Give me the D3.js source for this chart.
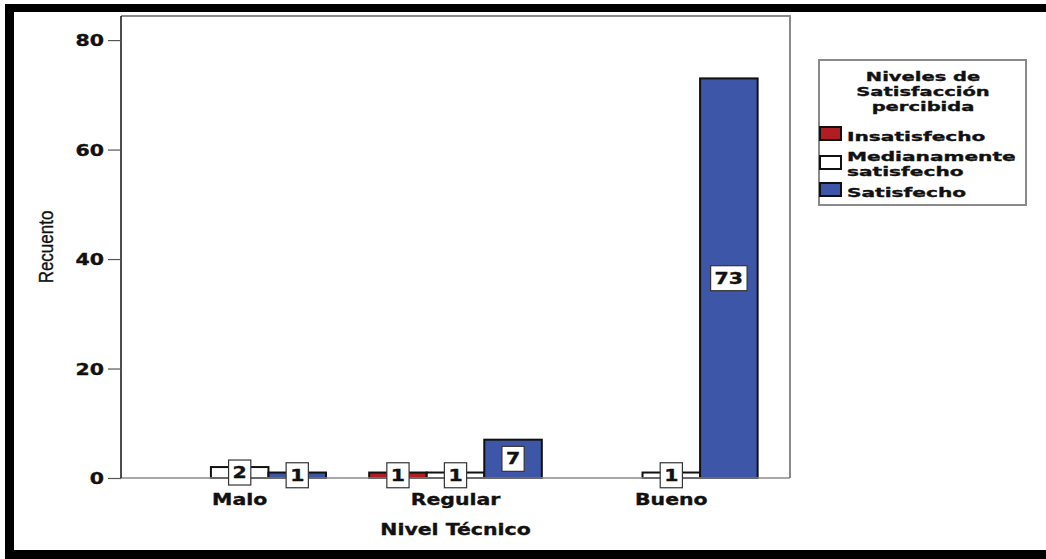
<!DOCTYPE html>
<html>
<head>
<meta charset="utf-8">
<script src="https://cdn.jsdelivr.net/npm/d3@7"></script>
<style>
  html, body { margin: 0; padding: 0; background: #fff; }
  svg { display: block; }
</style>
</head>
<body>
<svg id="chart" width="1046" height="559"></svg>
<script>
// Counts by technical level and perceived satisfaction
const categories = ["Malo", "Regular", "Bueno"];
const seriesNames = ["Insatisfecho", "Medianamente satisfecho", "Satisfecho"];
const insatisfecho = [0, 1, 0];
const medianamente = [2, 1, 1];
const satisfecho = [1, 7, 73];
const yTicks = [0, 20, 40, 60, 80];
const legendTitle = ["Niveles de", "Satisfacción", "percibida"];
const legendLabels = [["Insatisfecho"], ["Medianamente", "satisfecho"], ["Satisfecho"]];

const seriesValues = [insatisfecho, medianamente, satisfecho];
const colors = ["#b01d22", "#ffffff", "#3d56a8"];

const svg = d3.select("#chart");
const FONT = "'DejaVu Sans', sans-serif";
const SX = 1.32; // wide lettering

function wideText(g, x, y, str, opts = {}) {
  return g.append("text")
    .attr("transform", `translate(${x},${y}) scale(${opts.sx || SX},1)`)
    .attr("text-anchor", opts.anchor || "middle")
    .attr("font-family", FONT)
    .attr("font-weight", "bold")
    .attr("font-size", opts.size || 15.5)
    .attr("dy", opts.dy || null)
    .attr("fill", "#111")
    .attr("stroke", "#111")
    .attr("stroke-width", 0.35)
    .text(str);
}

// outer frame
svg.append("rect").attr("x", 0).attr("y", 0).attr("width", 1046).attr("height", 559).attr("fill", "#fff");
svg.append("rect").attr("x", 5).attr("y", 4).attr("width", 1041).attr("height", 8).attr("fill", "#000");
svg.append("rect").attr("x", 5).attr("y", 4).attr("width", 9).attr("height", 555).attr("fill", "#000");
svg.append("rect").attr("x", 5).attr("y", 550).attr("width", 1041).attr("height", 9).attr("fill", "#000");

const plot = { left: 121, right: 790, top: 16, bottom: 478 };

const x0 = d3.scaleBand().domain(categories).range([plot.left, plot.right])
  .paddingInner(0.2).paddingOuter(0.15);
const x1 = d3.scaleBand().domain(seriesNames).range([0, x0.bandwidth()]);
const y = d3.scaleLinear().domain([0, 84.4]).range([plot.bottom, plot.top]);

// plot frame (top and right)
svg.append("path")
  .attr("d", `M${plot.left},${plot.top}H${plot.right}V${plot.bottom}`)
  .attr("fill", "none").attr("stroke", "#8a8a8a").attr("stroke-width", 2);

// bars
const barData = [];
categories.forEach((c, i) => {
  seriesNames.forEach((s, j) => {
    barData.push({ cat: c, series: s, idx: j, value: seriesValues[j][i] });
  });
});
const shown = barData.filter(d => d.value > 0);

svg.append("g").selectAll("rect").data(shown).join("rect")
  .attr("x", d => x0(d.cat) + x1(d.series))
  .attr("y", d => y(d.value))
  .attr("width", x1.bandwidth())
  .attr("height", d => y(0) - y(d.value))
  .attr("fill", d => colors[d.idx])
  .attr("stroke", "#111").attr("stroke-width", 2);

// baseline
svg.append("line").attr("x1", plot.left).attr("x2", plot.right)
  .attr("y1", y(0)).attr("y2", y(0)).attr("stroke", "#8a8a8a").attr("stroke-width", 1.5);

// y axis
const yAxis = svg.append("g").attr("transform", `translate(${plot.left},0)`)
  .call(d3.axisLeft(y).tickValues(yTicks).tickSize(13).tickPadding(4).tickFormat(d3.format("d")));
yAxis.select(".domain").attr("d", `M0,${plot.top}V${plot.bottom}`).attr("stroke", "#111").attr("stroke-width", 1.5);
yAxis.selectAll(".tick line").attr("stroke", "#555").attr("stroke-width", 1.2);
yAxis.selectAll(".tick text").remove();
yAxis.selectAll(".tick").each(function (d) {
  wideText(d3.select(this), -17, 0, d, { anchor: "end", dy: "0.36em", size: 15.5 });
});

// x axis labels
const xAxis = svg.append("g").attr("transform", `translate(0,${plot.bottom})`)
  .call(d3.axisBottom(x0).tickSize(0));
xAxis.select(".domain").remove();
xAxis.selectAll(".tick text").remove();
xAxis.selectAll(".tick").each(function (d) {
  wideText(d3.select(this), 0, 27, d, { size: 15.5 });
});

// axis titles
wideText(svg, (plot.left + plot.right) / 2, 535, "Nivel Técnico", { size: 15.5 });
svg.append("text")
  .attr("transform", "translate(53,247) scale(1.2,1) rotate(-90)")
  .attr("text-anchor", "middle")
  .attr("font-family", "'Liberation Sans', Arial, sans-serif")
  .attr("font-size", 17)
  .attr("fill", "#111")
  .attr("stroke", "#111")
  .attr("stroke-width", 0.3)
  .text("Recuento");

// value labels
const labels = svg.append("g").selectAll("g").data(shown).join("g")
  .attr("transform", d => `translate(${x0(d.cat) + x1(d.series) + x1.bandwidth() / 2},${(y(0) + y(d.value)) / 2})`);
labels.each(function (d) {
  const g = d3.select(this);
  const str = String(d.value);
  const w = str.length * 0.696 * 15.5 * SX + 8;
  g.append("rect").attr("x", -w / 2).attr("y", -12.5).attr("width", w).attr("height", 25)
    .attr("fill", "#fff").attr("stroke", "#333").attr("stroke-width", 1.2);
  wideText(g, 0, 0, str, { dy: "0.36em", size: 15.5 });
});

// legend
const lg = svg.append("g");
lg.append("rect").attr("x", 819).attr("y", 60).attr("width", 207).attr("height", 145)
  .attr("fill", "#fff").attr("stroke", "#8a8a8a").attr("stroke-width", 2);
legendTitle.forEach((t, i) => {
  wideText(lg, 923, 81 + i * 15, t, { size: 13, sx: 1.5 });
});
const itemY = [127, 156, 183];
seriesNames.forEach((s, i) => {
  lg.append("rect").attr("x", 820).attr("y", itemY[i]).attr("width", 21).attr("height", 13)
    .attr("fill", colors[i]).attr("stroke", "#111").attr("stroke-width", 2);
  legendLabels[i].forEach((line, k) => {
    const base = i === 1 ? 160.5 + k * 15 : itemY[i] + 13.5;
    wideText(lg, 847, base, line, { anchor: "start", size: 13, sx: 1.55 });
  });
});
</script>
</body>
</html>
